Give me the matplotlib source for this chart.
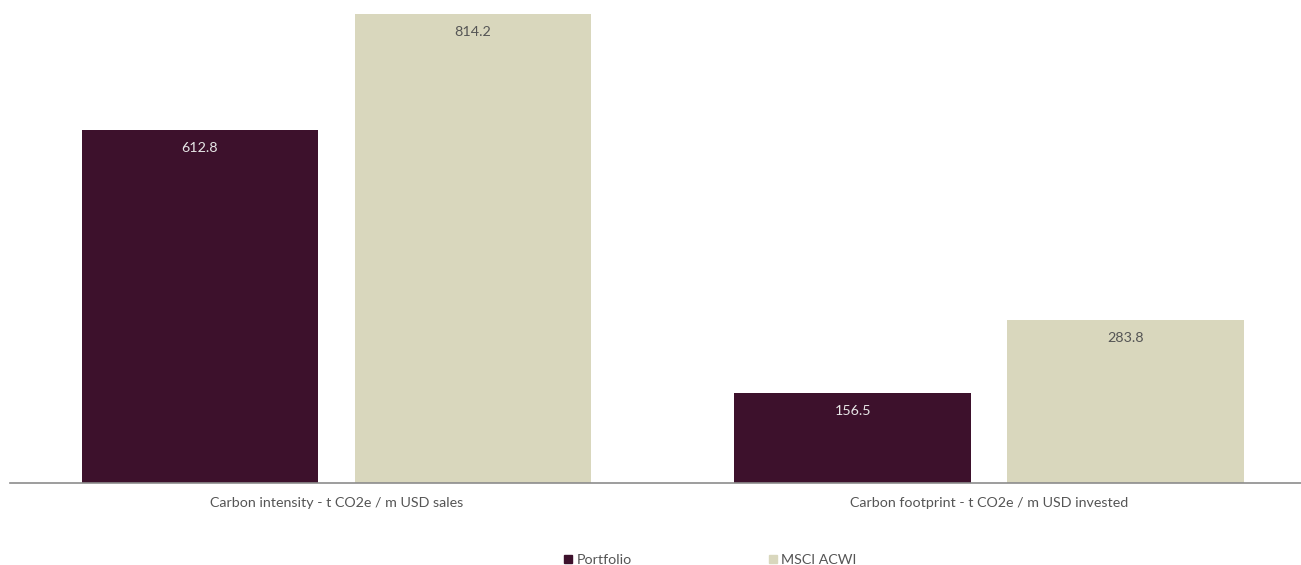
import matplotlib
matplotlib.use("Agg")
import matplotlib.pyplot as plt
import numpy as np

categories = ["Carbon intensity - t CO2e / m USD sales",
              "Carbon footprint - t CO2e / m USD invested"]
series_names = ["Portfolio", "MSCI ACWI"]
portfolio = [612.8, 156.5]
msci_acwi = [814.2, 283.8]

colors = ["#3d112c", "#d9d7bd"]
label_colors = ["#e6e6e6", "#555555"]

plt.rcParams["font.family"] = ["Lato", "DejaVu Sans"]

fig = plt.figure(figsize=(13.01, 5.65), dpi=100)
ax = fig.add_axes([10 / 1301, (565 - 483) / 565, 1 - 10 / 1301, 483 / 565])

x = np.arange(len(categories))
width = 0.362
offset = 0.209
for i, (vals, name) in enumerate([(portfolio, series_names[0]), (msci_acwi, series_names[1])]):
    pos = x + (offset if i else -offset)
    bars = ax.bar(pos, vals, width, color=colors[i], label=name)
    for b, v in zip(bars, vals):
        ax.annotate(f"{v:.1f}", (b.get_x() + b.get_width() / 2, v),
                    xytext=(0, -13), textcoords="offset points",
                    ha="center", va="center", fontsize=10.3, color=label_colors[i])

ax.set_xlim(-0.5, 1.478)
ax.set_ylim(0, 814.2 * 483 / 469)
ax.set_yticks([])
ax.set_xticks([])
for s in ["top", "right", "left"]:
    ax.spines[s].set_visible(False)
ax.spines["bottom"].set_color("#8c8c8c")
ax.spines["bottom"].set_linewidth(1.2)

for xi, cat in zip(x, categories):
    ax.text(xi, -20 / 469 * 814.2, cat, ha="center", va="center",
            fontsize=10.3, color="#555555")

handles = [plt.Rectangle((0, 0), 1, 1, color=c) for c in colors]
fig.legend(handles, series_names, loc="center", bbox_to_anchor=(0.546, 1 - 560 / 565),
           ncol=2, frameon=False, fontsize=10.3, handlelength=0.55, handleheight=0.55,
           handletextpad=0.3, columnspacing=9.6, labelcolor="#555555")

fig.savefig("out.png", dpi=100)
